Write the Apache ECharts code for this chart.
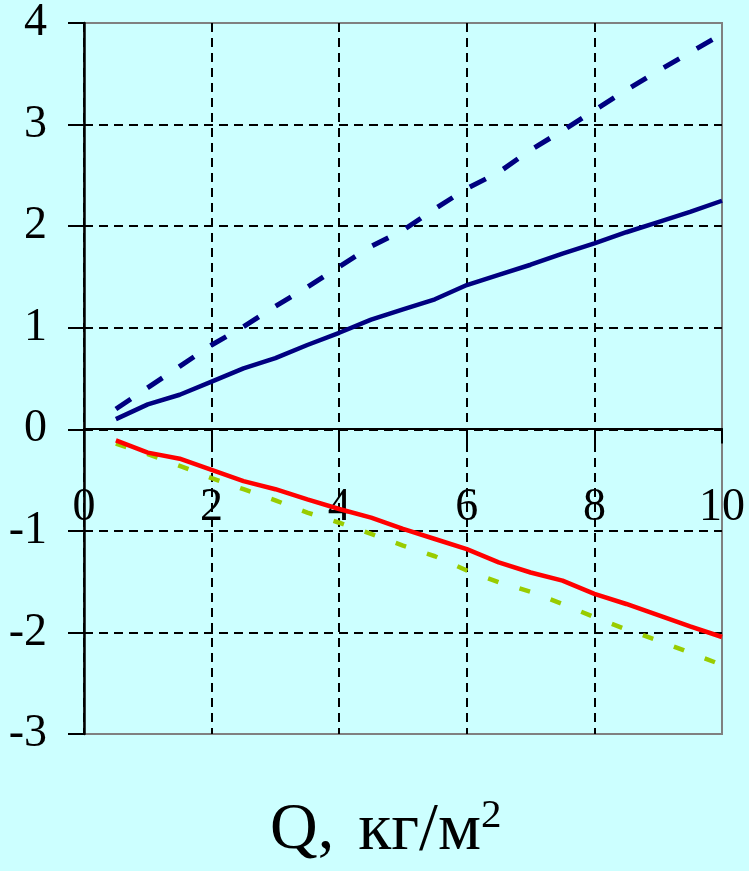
<!DOCTYPE html>
<html>
<head>
<meta charset="utf-8">
<script src="https://cdn.jsdelivr.net/npm/echarts@6/dist/echarts.min.js"></script>
<style>
html,body{margin:0;padding:0;background:#CCFFFF;}
#chart{width:749px;height:871px;}
</style>
</head>
<body>
<div id="chart"></div>
<script>
const xValues = [0.5,1,1.5,2,2.5,3,3.5,4,4.5,5,5.5,6,6.5,7,7.5,8,8.5,9,9.5,10];
const navyDashed = [0.20,0.41,0.62,0.83,1.01,1.21,1.40,1.60,1.80,1.96,2.17,2.37,2.53,2.75,2.94,3.14,3.34,3.53,3.71,3.89];
const navySolid = [0.10,0.245,0.34,0.47,0.60,0.70,0.83,0.95,1.08,1.18,1.28,1.42,1.52,1.62,1.73,1.83,1.94,2.04,2.14,2.25];
const redSolid = [-0.11,-0.23,-0.29,-0.40,-0.51,-0.59,-0.69,-0.785,-0.87,-0.98,-1.08,-1.18,-1.31,-1.41,-1.49,-1.62,-1.72,-1.83,-1.94,-2.045];
const greenDashed = [-0.14,-0.245,-0.36,-0.48,-0.59,-0.70,-0.82,-0.92,-1.03,-1.145,-1.25,-1.39,-1.505,-1.60,-1.72,-1.85,-1.97,-2.08,-2.20,-2.32];
const titleQ = 'Q,';
const titleUnit = 'кг/м';
const titleSup = '2';

function pairs(ys){ return xValues.map((x,i)=>[x, ys[i]]); }

const chart = echarts.init(document.getElementById('chart'));
const FONT = 'Liberation Serif';
const GRID_TOP = 21, GRID_BOTTOM = 137, H = 871;
const Y_MIN = -3, Y_MAX = 4;
const plotH = H - GRID_TOP - GRID_BOTTOM;
const zeroOffset = -plotH * (0 - Y_MIN) / (Y_MAX - Y_MIN);
chart.setOption({
  backgroundColor: '#CCFFFF',
  animation: false,
  title: {
    text: '{a|' + titleQ + '}{u|' + titleUnit + '}{b|' + titleSup + '}',
    left: 270, top: 796, padding: 0,
    textStyle: {
      rich: {
        a: {fontFamily: FONT, fontSize: 66, fontWeight: 'normal', color: '#000', lineHeight: 70},
        u: {fontFamily: FONT, fontSize: 68, fontWeight: 'normal', color: '#000', lineHeight: 70, padding: [0, 0, 0, 24]},
        b: {fontFamily: FONT, fontSize: 41, fontWeight: 'normal', color: '#000', lineHeight: 58, verticalAlign: 'top'}
      }
    }
  },
  grid: {
    left: 84, right: 27, top: GRID_TOP, bottom: GRID_BOTTOM,
    show: true, backgroundColor: '#CCFFFF', borderColor: '#808080', borderWidth: 2
  },
  xAxis: {
    type: 'value', min: 0, max: 10, interval: 2,
    position: 'bottom', offset: zeroOffset,
    axisLine: {show: true, onZero: false, lineStyle: {color: '#000', width: 2}},
    axisTick: {show: true, length: 15, lineStyle: {color: '#000', width: 2}},
    axisLabel: {margin: 56, fontFamily: FONT, fontSize: 46, color: '#000'},
    splitLine: {show: true, showMaxLine: false, lineStyle: {color: '#000', width: 2, type: [9, 6]}}
  },
  yAxis: {
    type: 'value', min: Y_MIN, max: Y_MAX, interval: 1,
    axisLine: {show: true, onZero: false, lineStyle: {color: '#000', width: 2.5}},
    axisTick: {show: true, length: 16, lineStyle: {color: '#000', width: 2}},
    axisLabel: {margin: 37, fontFamily: FONT, fontSize: 46, color: '#000'},
    splitLine: {show: true, showMinLine: false, showMaxLine: false, lineStyle: {color: '#000', width: 2, type: [9, 6]}}
  },
  series: [
    {type: 'line', data: pairs(navyDashed), symbol: 'none', lineStyle: {color: '#000080', width: 5, type: [18, 20], cap: 'butt'}},
    {type: 'line', data: pairs(navySolid), symbol: 'none', lineStyle: {color: '#000080', width: 4.5}},
    {type: 'line', data: pairs(greenDashed), symbol: 'none', lineStyle: {color: '#99CC00', width: 4.5, type: [11, 22]}},
    {type: 'line', data: pairs(redSolid), symbol: 'none', lineStyle: {color: '#FF0000', width: 4.5}}
  ]
});
</script>
</body>
</html>
